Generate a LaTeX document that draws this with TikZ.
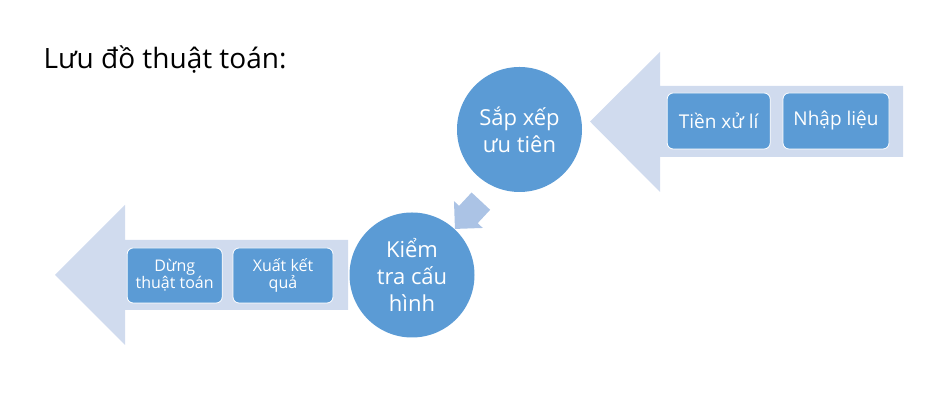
\documentclass[tikz,border=0pt]{standalone}
\usepackage{fontspec}
\setmainfont{Open Sans}
\usetikzlibrary{arrows,shapes,shapes.arrows,positioning}
\definecolor{xanh}{RGB}{91,155,213}
\definecolor{muinhat}{RGB}{208,219,238}
\definecolor{muinoi}{RGB}{171,195,229}

\begin{document}
\begin{tikzpicture}[x=1pt,y=1pt]
\tikzset{tron/.style ={circle,fill=xanh,text=white,minimum size=125pt,inner sep=0pt,align=center,font=\fontsize{22}{27}\selectfont},
  hop/.style ={rectangle,rounded corners=6pt,fill=xanh,draw=white,line width=0.8pt,text=white,minimum height=56pt,inner sep=2pt,align=center},
  muiten/.style ={fill=muinhat}}
% \tikzstyle{hop}=[draw=white!80!xanh]
\useasboundingbox (0,0) rectangle (946,406);
\node[anchor=base west,font=\fontsize{28}{34}\selectfont] (tieude) at (40,337) {Lưu đồ thuật toán:};
% hai mui ten lon
\fill[muiten] (590,284.5) -- (660,354) -- (660,320) -- (903,320) -- (903,249) -- (660,249) -- (660,214) -- cycle;
\fill[muiten] (55,131) -- (125,201) -- (125,166) -- (348,166) -- (348,96) -- (125,96) -- (125,61) -- cycle;
    \node[tron] (sapxep) at (519.5,276.5) {Sắp xếp\\ưu tiên};
    \node[tron] (kiemtra) at (412,131) {Kiểm\\tra cấu\\hình};
    \node[hop,minimum width=106pt,font=\fontsize{19}{23}\selectfont] (nhaplieu) at (836,285) {Nhập liệu};
    \node[hop,minimum width=103pt,font=\fontsize{19}{23}\selectfont,left=12pt of nhaplieu] (tienxuli) {Tiền xử lí};
    \node[hop,minimum width=100pt,minimum height=55pt,font=\fontsize{16}{17}\selectfont] (xuatketqua) at (283,130.5) {Xuất kết\\quả};
    \node[hop,minimum width=95pt,minimum height=55pt,font=\fontsize{16}{17}\selectfont,left=10pt of xuatketqua] (dung) {Dừng\\thuật toán};
    \node[single arrow,fill=muinoi,minimum height=38pt,single arrow head extend=7pt,inner xsep=0pt,inner ysep=12.5pt,rotate=227,anchor=tip] (noi) at (kiemtra.47) {};
\end{tikzpicture}
\end{document}
